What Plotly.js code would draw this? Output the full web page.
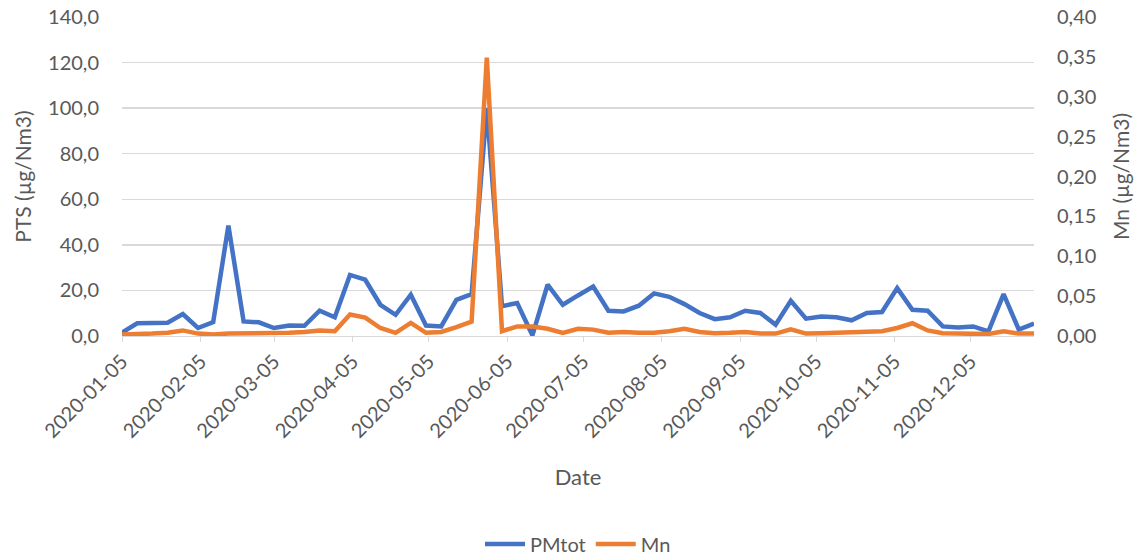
<!DOCTYPE html>
<html>
<head>
<meta charset="utf-8">
<script src="https://cdn.plot.ly/plotly-3.0.1.min.js"></script>
<style>html,body{margin:0;padding:0;background:#fff;}#chart{width:1148px;height:557px;}</style>
</head>
<body>
<div id="chart"></div>
<script>
const dates = [
 "2020-01-05","2020-01-11","2020-01-17","2020-01-23","2020-01-29","2020-02-04","2020-02-10","2020-02-16","2020-02-22","2020-02-28",
 "2020-03-05","2020-03-11","2020-03-17","2020-03-23","2020-03-29","2020-04-04","2020-04-10","2020-04-16","2020-04-22","2020-04-28",
 "2020-05-04","2020-05-10","2020-05-16","2020-05-22","2020-05-28","2020-06-03","2020-06-09","2020-06-15","2020-06-21","2020-06-27",
 "2020-07-03","2020-07-09","2020-07-15","2020-07-21","2020-07-27","2020-08-02","2020-08-08","2020-08-14","2020-08-20","2020-08-26",
 "2020-09-01","2020-09-07","2020-09-13","2020-09-19","2020-09-25","2020-10-01","2020-10-07","2020-10-13","2020-10-19","2020-10-25",
 "2020-10-31","2020-11-06","2020-11-12","2020-11-18","2020-11-24","2020-11-30","2020-12-06","2020-12-12","2020-12-18","2020-12-24",
 "2020-12-30"
];
const pmtot = [
 1.5, 5.6, 5.7, 5.8, 9.6, 3.5, 6.1, 48.5, 6.4, 6.0,
 3.5, 4.6, 4.5, 11.1, 8.2, 26.8, 24.7, 13.7, 9.3, 18.1,
 4.6, 4.2, 15.9, 18.4, 100.0, 13.1, 14.5, 0.3, 22.5, 13.7,
 17.8, 21.7, 11.1, 10.8, 13.3, 18.7, 17.2, 14.0, 10.1, 7.4,
 8.2, 11.1, 10.1, 5.0, 15.5, 7.6, 8.6, 8.2, 6.9, 10.1,
 10.5, 21.0, 11.5, 11.1, 4.2, 3.7, 4.2, 2.0, 18.4, 2.8,
 5.5
];
const mn = [
 0.002, 0.002, 0.003, 0.004, 0.007, 0.003, 0.002, 0.003, 0.003, 0.003,
 0.003, 0.004, 0.005, 0.007, 0.006, 0.027, 0.023, 0.010, 0.004, 0.0165,
 0.004, 0.005, 0.011, 0.018, 0.349, 0.006, 0.012, 0.012, 0.009, 0.004,
 0.009, 0.008, 0.004, 0.005, 0.004, 0.004, 0.006, 0.009, 0.005, 0.0035,
 0.004, 0.005, 0.003, 0.003, 0.0085, 0.003, 0.0035, 0.004, 0.005, 0.005,
 0.006, 0.010, 0.016, 0.007, 0.0035, 0.003, 0.003, 0.0025, 0.006, 0.003,
 0.003
];
const xTicks = ["2020-01-05","2020-02-05","2020-03-05","2020-04-05","2020-05-05","2020-06-05",
 "2020-07-05","2020-08-05","2020-09-05","2020-10-05","2020-11-05","2020-12-05"];
const seriesNames = ["PMtot","Mn"];

const FONT = "Lato, 'Open Sans', sans-serif";
const TXT = "#595959";

const traces = [
 {x: dates, y: pmtot, name: seriesNames[0], type: "scatter", mode: "lines",
  line: {color: "#4472C4", width: 4.5, shape: "linear"}, yaxis: "y"},
 {x: dates, y: mn, name: seriesNames[1], type: "scatter", mode: "lines",
  line: {color: "#ED7D31", width: 4.5, shape: "linear"}, yaxis: "y2"}
];

const layout = {
 width: 1148, height: 557,
 margin: {l: 122, r: 114, t: 17, b: 221, autoexpand: false},
 paper_bgcolor: "#fff", plot_bgcolor: "#fff",
 separators: ", ",
 font: {family: FONT, color: TXT, size: 21},
 showlegend: true,
 legend: {orientation: "h", x: 0.5, xanchor: "center", y: -0.652, yanchor: "middle",
  font: {family: FONT, size: 20, color: TXT}, itemwidth: 40},
 xaxis: {
  type: "date", range: ["2020-01-05", "2020-12-30"], automargin: false,
  tickvals: xTicks, tickformat: "%Y-%m-%d", tickangle: -45,
  ticks: "outside", ticklen: 5, tickcolor: "#D9D9D9", tickwidth: 1,
  showgrid: false, showline: true, linecolor: "#D9D9D9", linewidth: 1,
  zeroline: false, tickfont: {family: FONT, size: 20, color: TXT},
  title: {text: "Date", font: {family: FONT, size: 22, color: TXT}, standoff: 28}
 },
 yaxis: {
  range: [0, 140], dtick: 20, tick0: 0, tickformat: ".1f", automargin: false,
  showgrid: true, gridcolor: "#D9D9D9", gridwidth: 1.5, zeroline: false,
  showline: false, ticks: "", ticklabelstandoff: 22,
  tickfont: {family: FONT, size: 20, color: TXT},
  title: {text: "PTS (µg/Nm3)", font: {family: FONT, size: 21, color: TXT}, standoff: 10}
 },
 yaxis2: {
  overlaying: "y", side: "right", automargin: false,
  range: [0, 0.4], dtick: 0.05, tick0: 0, tickformat: ".2f",
  showgrid: false, zeroline: false, showline: false, ticks: "", ticklabelstandoff: 22,
  tickfont: {family: FONT, size: 20, color: TXT},
  title: {text: "Mn (µg/Nm3)", font: {family: FONT, size: 21, color: TXT}, standoff: 18}
 }
};

Plotly.newPlot("chart", traces, layout, {displayModeBar: false, staticPlot: true});
</script>
</body>
</html>
